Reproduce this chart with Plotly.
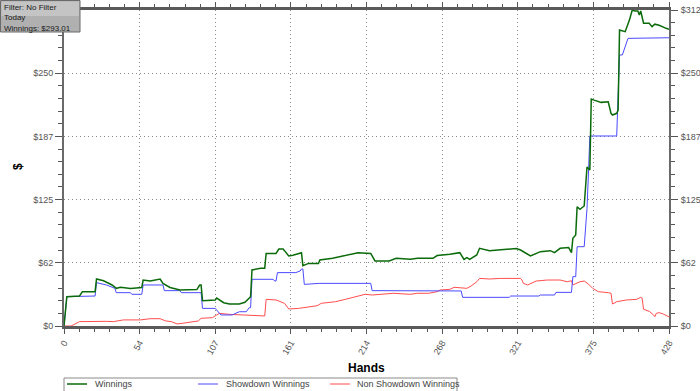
import plotly.graph_objects as go

# ---- data ----
win_hands = [0, 2, 11, 13, 22, 23, 28, 34, 37, 40, 47, 53, 55, 56, 61, 68, 70, 75, 82, 94, 96, 97, 98,
             107, 108, 113, 117, 124, 128, 132, 133, 139, 142, 143, 150, 152, 155, 156, 159, 162, 168,
             169, 173, 180, 181, 190, 195, 202, 208, 217, 220, 230, 235, 245, 250, 261, 264, 273, 280,
             283, 285, 287, 292, 294, 301, 307, 320, 323, 327, 330, 337, 344, 347, 351, 357, 359, 360,
             362, 363, 365, 368, 369, 370, 372, 373, 375, 380, 385, 387, 388, 391, 392, 393, 397, 400,
             402, 404, 406, 407, 408, 410, 414, 416, 418, 421, 426, 428]
win_values = [0, 29, 29.6, 33.9, 33.9, 46.4, 44.7, 40.5, 37.2, 38.2, 37, 38, 38, 45.4, 44.4, 46.4, 42, 38,
              35.5, 36, 40.4, 40.4, 25, 25.6, 27.6, 23, 21.7, 21.7, 23.4, 28.9, 55.3, 57, 57, 71.7, 71.7,
              76, 76, 74.4, 69.1, 69.8, 72.4, 59.6, 61.8, 61.8, 65.2, 66.8, 68.4, 70.8, 72.4, 71.7, 64.2,
              64.2, 66.8, 65.8, 66.8, 66.8, 69.6, 70.8, 72.4, 65.8, 67.5, 65.8, 70.1, 76.7, 74.4, 75, 76.5,
              75, 71.7, 69.1, 73.4, 74.4, 72.4, 76.7, 77.4, 72.4, 86.6, 89.8, 117.8, 115.2, 118.5, 140,
              157, 154, 224, 223, 220.8, 221.4, 210, 208.3, 210, 213.3, 292.3, 290.6, 302, 312, 311, 311,
              307, 311, 298.9, 298.9, 295.6, 298, 297, 293.9, 293.01]

sd_hands = [0, 2, 22, 23, 30, 36, 37, 47, 48, 55, 56, 70, 71, 82, 83, 97, 98, 107, 111, 119, 121, 124,
            129, 131, 132, 133, 148, 149, 150, 151, 164, 167, 168, 169, 170, 181, 217, 218, 281, 282,
            315, 316, 336, 337, 347, 348, 359, 360, 362, 363, 368, 370, 371, 372, 391, 393, 395, 397,
            399, 428]
sd_values = [0, 29, 29.6, 42.8, 40.5, 37.2, 32.9, 32.9, 31.3, 31.3, 40.5, 40.5, 34.9, 34.9, 32.9, 32.9,
             17.4, 17.4, 10.9, 10.9, 12.2, 14.1, 14.1, 18.1, 18.1, 46.1, 46.1, 44.4, 44.4, 52.7, 52.7,
             54.3, 56.3, 56.3, 41.1, 42.1, 42.1, 34.9, 34.6, 28.3, 28.3, 29.6, 29.6, 30.6, 30.6, 33.2,
             33.2, 48.7, 48.7, 78.3, 78.3, 116, 150, 187.6, 187.6, 267.6, 267.6, 275.8, 284, 284.6]

nsd_hands = [0, 5, 11, 20, 30, 35, 42, 54, 61, 68, 72, 76, 80, 84, 91, 95, 97, 105, 108, 110, 117, 124,
             131, 142, 143, 150, 156, 159, 166, 173, 179, 182, 192, 199, 207, 213, 218, 226, 233, 245,
             250, 258, 264, 266, 273, 276, 285, 288, 292, 294, 301, 309, 323, 324, 325, 328, 334, 342,
             351, 356, 359, 360, 365, 368, 371, 374, 378, 385, 387, 388, 391, 398, 405, 408, 409, 410,
             414, 417, 418, 419, 421, 424, 427, 428]
nsd_values = [0, 0, 4.3, 4.6, 4.6, 4.3, 6, 6, 7.2, 7.2, 5, 4.3, 2, 2.7, 4.3, 5, 7.6, 8.2, 10.9, 12.5,
              11.5, 10.9, 10.3, 9.9, 26.3, 25.7, 22.4, 16.8, 17.4, 19.1, 20, 22.4, 24, 26.3, 29, 31.3,
              30.6, 31.6, 32.3, 31.3, 32.3, 32.3, 33.9, 35.5, 36.2, 38.2, 37.2, 39.5, 43.7, 47, 46.4, 47,
              47, 45.4, 42.1, 40.5, 44.4, 45.4, 45.4, 43.7, 44.7, 40.5, 43.7, 44.4, 41.4, 37.2, 33.9,
              32.9, 32.3, 21.7, 24, 25.7, 26.3, 28.3, 27.5, 16.5, 14.5, 11, 9.2, 12.5, 13.2, 11.8, 9.2, 9]

x_tickvals = [0, 53.5, 107, 160.5, 214, 267.5, 321, 374.5, 428]
x_ticktext = ["0", "54", "107", "161", "214", "268", "321", "375", "428"]
y_tickvals = [0, 62.4, 124.8, 187.2, 249.6, 312]
y_ticktext = ["$0", "$62", "$125", "$187", "$250", "$312"]
# the top-left "$312" label is hidden under the filter box in the reference
y_ticktext_left = ["$0", "$62", "$125", "$187", "$250", ""]

series_names = ["Winnings", "Showdown Winnings", "Non Showdown Winnings"]
series_colors = ["#0b6b0b", "#4a4aff", "#ff4d4d"]
info_lines = ["Filter: No Filter", "Today", "Winnings: $293.01"]

FONT = "Liberation Sans, Arial, sans-serif"

# pixel geometry of the plot area
W, H = 700, 391
L, R, T, B = 64, 31, 10, 65
PW, PH = W - L - R, H - T - B


def px(xp):
    return (xp - L) / PW


def py(yp):
    return (H - B - yp) / PH


fig = go.Figure()
fig.add_trace(go.Scatter(x=nsd_hands, y=nsd_values, mode="lines", name=series_names[2],
                         line=dict(color=series_colors[2], width=1)))
fig.add_trace(go.Scatter(x=sd_hands, y=sd_values, mode="lines", name=series_names[1],
                         line=dict(color=series_colors[1], width=1)))
fig.add_trace(go.Scatter(x=win_hands, y=win_values, mode="lines", name=series_names[0],
                         line=dict(color=series_colors[0], width=1.5)))
# helper trace so the right-hand axis is drawn
fig.add_trace(go.Scatter(x=[0], y=[0], yaxis="y2", mode="lines", line=dict(width=0),
                         showlegend=False, hoverinfo="skip"))

axis_font = dict(family=FONT, size=9, color="#555555")
grid = dict(showgrid=True, gridcolor="#8c8c8c", griddash="1px,3px", gridwidth=1, zeroline=False)
fig.update_layout(
    width=W, height=H, autosize=False,
    margin=dict(l=L, r=R, t=T, b=B, pad=0),
    paper_bgcolor="white", plot_bgcolor="white",
    font=dict(family=FONT, size=9, color="#333333"),
    showlegend=False,
    xaxis=dict(range=[0, 428], tickmode="array", tickvals=x_tickvals, ticktext=x_ticktext,
               tickangle=-60, tickfont=axis_font, ticks="outside", ticklen=5, tickcolor="#555555",
               showline=True, linecolor="#5a5a5a", linewidth=3, mirror="ticks", automargin=False,
               minor=dict(tick0=0, dtick=428 / 40, ticks="outside", ticklen=3, tickcolor="#555555",
                          showgrid=False), **grid),
    yaxis=dict(range=[0, 312], tickmode="array", tickvals=y_tickvals, ticktext=y_ticktext_left,
               tickfont=axis_font, ticks="outside", ticklen=7, tickcolor="#555555",
               showline=True, linecolor="#6a6a6a", linewidth=2, mirror="allticks", automargin=False,
               minor=dict(tick0=0, dtick=12.48, ticks="outside", ticklen=4, tickcolor="#555555",
                          showgrid=False), **grid),
    yaxis2=dict(range=[0, 312], overlaying="y", side="right", tickmode="array",
                tickvals=y_tickvals, ticktext=y_ticktext, tickfont=axis_font,
                ticks="outside", ticklen=9, tickcolor="rgba(0,0,0,0)", showline=False,
                showgrid=False, zeroline=False, automargin=False),
    hovermode=False,
)

# axis titles
fig.add_annotation(text="<b>Hands</b>", xref="paper", yref="paper", x=0.5, y=py(368),
                   xanchor="center", yanchor="middle", showarrow=False,
                   font=dict(family=FONT, size=12, color="#000000"))
fig.add_annotation(text="<b>$</b>", xref="paper", yref="paper", x=px(18), y=py(167),
                   xanchor="center", yanchor="middle", showarrow=False, textangle=-90,
                   font=dict(family=FONT, size=12, color="#000000"))

# manual legend box along the bottom
fig.add_shape(type="rect", xref="paper", yref="paper", x0=px(64), x1=px(457), y0=py(398), y1=py(378),
              fillcolor="white", line=dict(color="#8a8a8a", width=1))
legend_line_x = [(67, 87), (198, 218), (330, 350)]
legend_text_x = [93, 224, 355]
for name, col, (lx0, lx1), tx in zip(series_names, series_colors, legend_line_x, legend_text_x):
    fig.add_shape(type="line", xref="paper", yref="paper", x0=px(lx0), x1=px(lx1), y0=py(384), y1=py(384),
                  line=dict(color=col, width=1.5 if col == series_colors[0] else 1))
    fig.add_annotation(text=name, xref="paper", yref="paper", x=px(tx), y=py(384),
                       xanchor="left", yanchor="middle", showarrow=False,
                       font=dict(family=FONT, size=9, color="#444444"))

# filter info box (top-left)
fig.add_shape(type="rect", xref="paper", yref="paper", x0=px(0.5), x1=px(80), y0=py(32), y1=py(0.5),
              fillcolor="#b0b0b0", line=dict(color="#6a6a6a", width=1), layer="above")
fig.add_shape(type="rect", xref="paper", yref="paper", x0=px(1.5), x1=px(79), y0=py(16), y1=py(1.5),
              fillcolor="#c4c4c4", line=dict(width=0), layer="above")
fig.add_annotation(text="<br>".join(info_lines), xref="paper", yref="paper", x=px(2), y=py(0.5),
                   xanchor="left", yanchor="top", align="left", showarrow=False,
                   font=dict(family=FONT, size=8, color="#1a1a1a"))

fig.write_html("out.html", config={"displayModeBar": False},
               post_script="document.body.style.margin='0';")
